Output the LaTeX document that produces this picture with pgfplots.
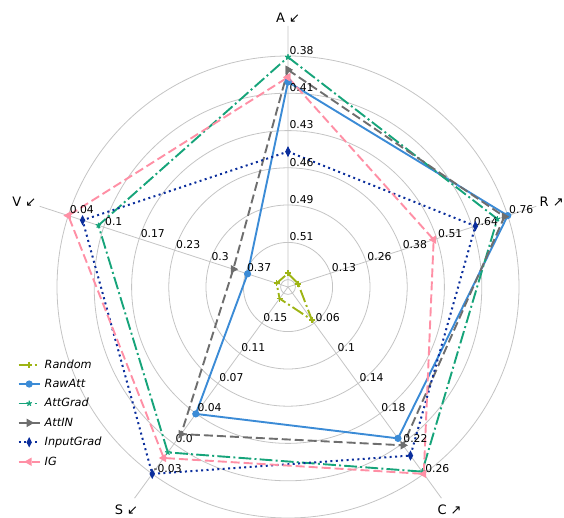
\documentclass[border=0pt]{standalone}
\usepackage{pgfplots}
\pgfplotsset{compat=1.18}
\usepgfplotslibrary{polar}
\usetikzlibrary{plotmarks}
\usepackage{fontspec}
\setmainfont{DejaVu Sans}
\definecolor{cRandom}{HTML}{9EB414}
\definecolor{cRaw}{HTML}{3B8BD6}
\definecolor{cAttGrad}{HTML}{16A47A}
\definecolor{cAttIN}{HTML}{6E6E6E}
\definecolor{cInput}{HTML}{0B2E9C}
\definecolor{cIG}{HTML}{FF8FA5}
\definecolor{gridc}{HTML}{C4C4C4}
\newcommand{\tl}{\fontsize{10.8}{12}\selectfont}
\newcommand{\legfont}{\fontsize{11.3}{13}\selectfont}
\newcommand{\al}{\fontsize{13}{15}\selectfont}
\begin{document}
\begin{tikzpicture}
\begin{polaraxis}[
  scale only axis,
  width=522.06pt, height=522.06pt,
  ymin=0, ymax=1.13,
  xtick={18,90,162,234,306},
  ytick={0.032,0.193,0.355,0.516,0.677,0.839,1.0},
  xticklabels={}, yticklabels={},
  major tick length=0pt,
  axis line style={draw=none},
  grid=major,
  major grid style={gridc, line width=0.8pt},
  clip=false,
  legend cell align=left,
  legend image code/.code={
    \draw[mark repeat=2,mark phase=2] plot coordinates {(0pt,0pt) (10.5pt,0pt) (21pt,0pt)};
  },
  legend style={draw=none, fill=none, at={(axis description cs:-0.022,0.369)}, anchor=north west,
    font=\legfont\itshape, row sep=5.5pt, inner sep=2pt,
    nodes={inner xsep=4pt}},
]
\coordinate (O) at (axis cs:0,0);
% Random
\addplot[cRandom, line width=1.9pt, dash pattern=on 12.8pt off 3.2pt on 2pt off 3.2pt,
  mark=+, mark size=3pt, mark options={solid, line width=1.8pt}]
  coordinates {(90,0.059) (18,0.046) (-54,0.176) (-126,0.062) (162,0.052) (90,0.059)};
\addlegendentry{Random}
% RawAtt
\addplot[cRaw, line width=1.9pt, solid,
  mark=*, mark size=2.6pt, mark options={solid, fill=cRaw}]
  coordinates {(90,0.888) (18,1.0) (-54,0.81) (-126,0.679) (162,0.184) (90,0.888)};
\addlegendentry{RawAtt}
% AttGrad
\addplot[cAttGrad, line width=1.9pt, dash pattern=on 12.8pt off 3.2pt on 2pt off 3.2pt,
  mark=star, mark size=2.8pt, mark options={solid, line width=1.2pt}]
  coordinates {(90,0.995) (18,0.953) (-54,0.988) (-126,0.885) (162,0.863) (90,0.995)};
\addlegendentry{AttGrad}
% AttIN
\addplot[cAttIN, line width=1.9pt, dash pattern=on 9pt off 4pt,
  mark=triangle*, mark size=3pt, mark options={solid, rotate=-90, fill=cAttIN}]
  coordinates {(90,0.94) (18,0.985) (-54,0.847) (-126,0.787) (162,0.249) (90,0.94)};
\addlegendentry{AttIN}
% InputGrad
\addplot[cInput, line width=2pt, dash pattern=on 2pt off 3.4pt,
  mark=diamond*, mark size=3pt, mark options={solid, xscale=0.7, fill=cInput}]
  coordinates {(90,0.586) (18,0.853) (-54,0.902) (-126,1.0) (162,0.935) (90,0.586)};
\addlegendentry{InputGrad}
% IG
\addplot[cIG, line width=1.9pt, dash pattern=on 9pt off 4pt,
  mark=triangle*, mark size=3pt, mark options={solid, rotate=90, fill=cIG}]
  coordinates {(90,0.908) (18,0.663) (-54,1.0) (-126,0.915) (162,1.0) (90,0.908)};
\addlegendentry{IG}
% tick value labels
\node[anchor=south west, inner sep=1.3pt, font=\tl] at (axis cs:90,0.193) {0.51};
\node[anchor=south west, inner sep=1.3pt, font=\tl] at (axis cs:90,0.355) {0.49};
\node[anchor=south west, inner sep=1.3pt, font=\tl] at (axis cs:90,0.516) {0.46};
\node[anchor=south west, inner sep=1.3pt, font=\tl] at (axis cs:90,0.677) {0.43};
\node[anchor=south west, inner sep=1.3pt, font=\tl] at (axis cs:90,0.839) {0.41};
\node[anchor=south west, inner sep=1.3pt, font=\tl] at (axis cs:90,1.0) {0.38};
\node[anchor=south west, inner sep=1.3pt, font=\tl] at (axis cs:18,0.193) {0.13};
\node[anchor=south west, inner sep=1.3pt, font=\tl] at (axis cs:18,0.355) {0.26};
\node[anchor=south west, inner sep=1.3pt, font=\tl] at (axis cs:18,0.516) {0.38};
\node[anchor=south west, inner sep=1.3pt, font=\tl] at (axis cs:18,0.677) {0.51};
\node[anchor=south west, inner sep=1.3pt, font=\tl] at (axis cs:18,0.839) {0.64};
\node[anchor=south west, inner sep=1.3pt, font=\tl] at (axis cs:18,1.0) {0.76};
\node[anchor=south west, inner sep=1.3pt, font=\tl] at (axis cs:-54,0.193) {0.06};
\node[anchor=south west, inner sep=1.3pt, font=\tl] at (axis cs:-54,0.355) {0.1};
\node[anchor=south west, inner sep=1.3pt, font=\tl] at (axis cs:-54,0.516) {0.14};
\node[anchor=south west, inner sep=1.3pt, font=\tl] at (axis cs:-54,0.677) {0.18};
\node[anchor=south west, inner sep=1.3pt, font=\tl] at (axis cs:-54,0.839) {0.22};
\node[anchor=south west, inner sep=1.3pt, font=\tl] at (axis cs:-54,1.0) {0.26};
\node[anchor=south west, inner sep=1.3pt, font=\tl] at (axis cs:234,0.193) {0.15};
\node[anchor=south west, inner sep=1.3pt, font=\tl] at (axis cs:234,0.355) {0.11};
\node[anchor=south west, inner sep=1.3pt, font=\tl] at (axis cs:234,0.516) {0.07};
\node[anchor=south west, inner sep=1.3pt, font=\tl] at (axis cs:234,0.677) {0.04};
\node[anchor=south west, inner sep=1.3pt, font=\tl] at (axis cs:234,0.839) {0.0};
\node[anchor=south west, inner sep=1.3pt, font=\tl] at (axis cs:234,1.0) {-0.03};
\node[anchor=south west, inner sep=1.3pt, font=\tl] at (axis cs:162,0.193) {0.37};
\node[anchor=south west, inner sep=1.3pt, font=\tl] at (axis cs:162,0.355) {0.3};
\node[anchor=south west, inner sep=1.3pt, font=\tl] at (axis cs:162,0.516) {0.23};
\node[anchor=south west, inner sep=1.3pt, font=\tl] at (axis cs:162,0.677) {0.17};
\node[anchor=south west, inner sep=1.3pt, font=\tl] at (axis cs:162,0.839) {0.1};
\node[anchor=south west, inner sep=1.3pt, font=\tl] at (axis cs:162,1.0) {0.04};
% axis names
\node[font=\al] at (axis cs:90,1.165) {A ↙};
\node[font=\al] at (axis cs:18,1.20) {R ↗};
\node[font=\al] at (axis cs:-54,1.19) {C ↗};
\node[font=\al] at (axis cs:234,1.19) {S ↙};
\node[font=\al] at (axis cs:162,1.20) {V ↙};
\end{polaraxis}
\pgfresetboundingbox
\path[use as bounding box] (O) ++(-288pt,287pt) rectangle ++(564pt,-518pt);
\end{tikzpicture}
\end{document}
